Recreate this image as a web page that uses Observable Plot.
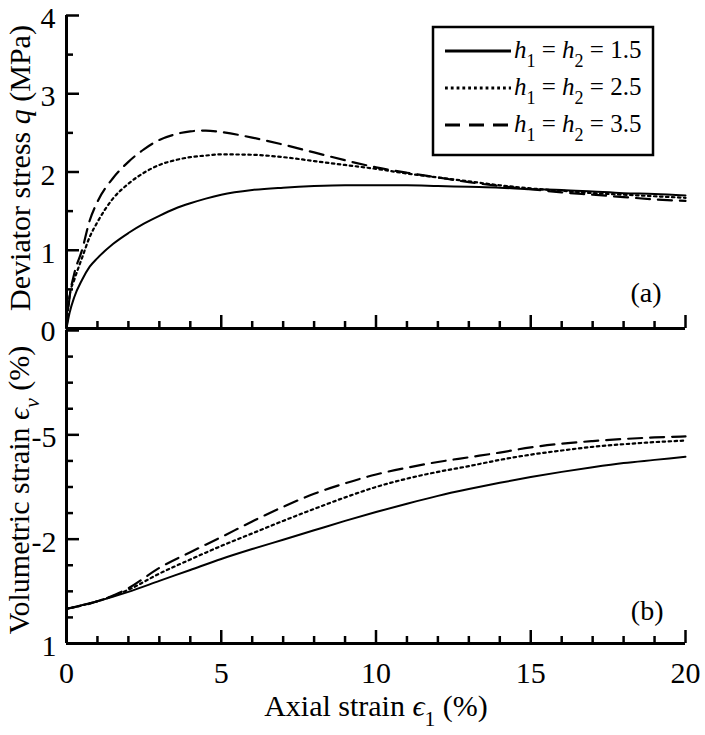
<!DOCTYPE html>
<html><head><meta charset="utf-8">
<script src="https://cdn.jsdelivr.net/npm/d3@7"></script>
<script src="https://cdn.jsdelivr.net/npm/@observablehq/plot@0.6"></script>
<style>
body{margin:0;background:#fff;}
#wrap{position:relative;width:705px;height:735px;background:#fff;}
#wrap svg{position:absolute;left:0;overflow:visible;}
</style></head><body><div id="wrap"></div>
<script>
// ---- data ----
const qStrain = [0, 0.1, 0.25, 0.5, 0.75, 1, 1.5, 2, 2.5, 3, 3.5, 4, 4.5, 5, 6, 7, 8, 9, 10, 11, 12, 13, 14, 15, 16, 17, 18, 19, 20];
const q15 = [0, 0.20, 0.40, 0.62, 0.79, 0.90, 1.08, 1.22, 1.34, 1.44, 1.53, 1.60, 1.66, 1.71, 1.77, 1.80, 1.82, 1.83, 1.83, 1.83, 1.82, 1.81, 1.80, 1.78, 1.77, 1.75, 1.73, 1.72, 1.70];
const q25 = [0, 0.42, 0.62, 0.90, 1.17, 1.36, 1.66, 1.85, 1.99, 2.09, 2.15, 2.19, 2.21, 2.225, 2.22, 2.19, 2.14, 2.09, 2.04, 1.98, 1.93, 1.88, 1.83, 1.79, 1.76, 1.73, 1.71, 1.69, 1.67];
const q35 = [0, 0.40, 0.70, 1.00, 1.38, 1.62, 1.92, 2.13, 2.29, 2.41, 2.48, 2.52, 2.53, 2.51, 2.44, 2.35, 2.25, 2.15, 2.06, 1.99, 1.93, 1.87, 1.82, 1.78, 1.74, 1.71, 1.68, 1.65, 1.63];

const evStrain = [0, 1, 2, 3, 4, 5, 6, 7, 8, 9, 10, 11, 12, 13, 14, 15, 16, 17, 18, 19, 20];
const ev15 = [0.335, 0.19, 0.01, -0.20, -0.41, -0.62, -0.81, -0.99, -1.17, -1.35, -1.52, -1.68, -1.83, -1.96, -2.08, -2.19, -2.29, -2.38, -2.46, -2.52, -2.58];
const ev25 = [0.335, 0.19, -0.03, -0.34, -0.61, -0.87, -1.11, -1.35, -1.58, -1.80, -2.00, -2.16, -2.29, -2.40, -2.52, -2.62, -2.70, -2.77, -2.82, -2.86, -2.89];
const ev35 = [0.335, 0.19, -0.06, -0.45, -0.75, -1.04, -1.34, -1.62, -1.87, -2.07, -2.24, -2.37, -2.48, -2.57, -2.66, -2.76, -2.83, -2.88, -2.92, -2.95, -2.97];

const seriesLabels = ["1.5", "2.5", "3.5"];
const xMajor = [0, 5, 10, 15, 20];
const xMinor = d3.range(0, 21).filter(d => d % 5 !== 0);
const qMajor = [0, 1, 2, 3, 4];
const qMinor = [0.5, 1.5, 2.5, 3.5];
const evMajor = [1, -1, -3, -5];
const evMinor = d3.range(1, -5.01, -0.5).filter(d => !evMajor.includes(d));
const evTickText = new Map([[1, "1"], [-1, "-2"], [-3, "-5"]]);

// ---- styles ----
const FONT = "'Liberation Serif', 'Times New Roman', serif";
const DOT = "2.5,3.5", DASH = "14,8";
const styles = [
  {stroke: "#000", strokeWidth: 2},
  {stroke: "#000", strokeWidth: 2.2, strokeDasharray: DOT},
  {stroke: "#000", strokeWidth: 2.2, strokeDasharray: DASH}
];
const W = 705, ML = 66, MR = 20;
const innerW = W - ML - MR;
const H1 = 330, MT1 = 15, MB1 = 2, innerH1 = H1 - MT1 - MB1;
const H2 = 405, MT2 = 0, MB2 = 92, innerH2 = H2 - MT2 - MB2;
const TICKFS = 30;

function tickMarks(xMaj, xMin, yMaj, yMin, yBase, innerH) {
  return [
    Plot.tickX(xMaj, {x: d => d, insetTop: innerH - 13, strokeWidth: 2.5}),
    Plot.tickX(xMin, {x: d => d, insetTop: innerH - 7, strokeWidth: 2.5}),
    Plot.tickY(yMaj, {y: d => d, insetRight: innerW - 13, strokeWidth: 2.5}),
    Plot.tickY(yMin, {y: d => d, insetRight: innerW - 7, strokeWidth: 2.5}),
    Plot.ruleX([0], {strokeWidth: 3}),
    Plot.ruleY([yBase], {strokeWidth: 3})
  ];
}

const qSeries = [q15, q25, q35];
const topPlot = Plot.plot({
  width: W, height: H1,
  marginLeft: ML, marginRight: MR, marginTop: MT1, marginBottom: MB1,
  x: {domain: [0, 20], axis: null},
  y: {domain: [0, 4], axis: null},
  style: {fontFamily: FONT, fontSize: TICKFS + "px", background: "transparent", overflow: "visible", color: "#000"},
  marks: [
    ...qSeries.map((s, i) => Plot.line(s, {x: qStrain, y: s, curve: "monotone-x", ...styles[i]})),
    ...tickMarks(xMajor, xMinor, qMajor, qMinor, 0, innerH1),
    Plot.axisY({ticks: qMajor, tickFormat: d => String(d), tickSize: 0, tickPadding: 11, dy: 3, fontSize: TICKFS, label: null}),
    Plot.text(["(a)"], {frameAnchor: "bottom-right", dx: -24, dy: -27, fontSize: 28})
  ]
});

const evSeries = [ev15, ev25, ev35];
const botPlot = Plot.plot({
  width: W, height: H2,
  marginLeft: ML, marginRight: MR, marginTop: MT2, marginBottom: MB2,
  x: {domain: [0, 20], axis: null},
  y: {domain: [1, -5], axis: null},
  style: {fontFamily: FONT, fontSize: TICKFS + "px", background: "transparent", overflow: "visible", color: "#000"},
  marks: [
    ...evSeries.map((s, i) => Plot.line(s, {x: evStrain, y: s, curve: "monotone-x", ...styles[i]})),
    ...tickMarks(xMajor, xMinor, evMajor, evMinor, 1, innerH2),
    Plot.axisY({ticks: [1, -1, -3], tickFormat: d => evTickText.get(d), tickSize: 0, tickPadding: 10, dy: 3, fontSize: TICKFS, label: null}),
    Plot.axisX({ticks: xMajor, tickFormat: d => String(d), tickSize: 0, tickPadding: 18, fontSize: TICKFS, label: null}),
    Plot.text(["(b)"], {frameAnchor: "bottom-right", dx: -22, dy: -24, fontSize: 28})
  ]
});

const wrap = document.getElementById("wrap");
topPlot.style.top = "0px";
botPlot.style.top = H1 + "px";
wrap.appendChild(botPlot);
wrap.appendChild(topPlot);

// rich text helper (italics, subscripts)
function richText(svg, x, y, parts, {rotate = 0, size = 30, anchor = "middle"} = {}) {
  const t = d3.select(svg).append("text")
    .attr("transform", `translate(${x},${y}) rotate(${rotate})`)
    .attr("text-anchor", anchor)
    .attr("font-family", FONT)
    .attr("font-size", size)
    .attr("fill", "#000");
  let shift = 0;
  for (const p of parts) {
    const ts = t.append("tspan").text(p.t);
    if (p.i) ts.attr("font-style", "italic");
    if (p.sub) {
      const s = size * 0.34;
      ts.attr("font-size", size * 0.72).attr("dy", s - shift);
      shift = s;
    } else if (shift) {
      ts.attr("dy", -shift);
      shift = 0;
    }
  }
  return t;
}

richText(topPlot, 30, 168, [{t: "Deviator stress "}, {t: "q", i: true}, {t: " (MPa)"}], {rotate: -90, size: 30});
richText(botPlot, 29, 160, [{t: "Volumetric strain "}, {t: "ϵ", i: true}, {t: "v", i: true, sub: true}, {t: " (%)"}], {rotate: -90, size: 30});
richText(botPlot, 376, 386, [{t: "Axial strain "}, {t: "ϵ", i: true}, {t: "1", sub: true}, {t: " (%)"}], {size: 30});

// legend
const lg = d3.select(topPlot).append("g");
lg.append("rect").attr("x", 433).attr("y", 27).attr("width", 220).attr("height", 128)
  .attr("fill", "#fff").attr("stroke", "#000").attr("stroke-width", 2.5);
const rowY = [58, 95, 132];
seriesLabels.forEach((lab, i) => {
  lg.append("line").attr("x1", 445).attr("x2", 511).attr("y1", rowY[i] - 7).attr("y2", rowY[i] - 7)
    .attr("stroke", "#000").attr("stroke-width", 2.8)
    .attr("stroke-dasharray", i === 0 ? null : (i === 1 ? "2.8,3" : "15,9"));
  const tx = richText(topPlot, 514, rowY[i], [
    {t: "h", i: true}, {t: "1", sub: true}, {t: " = "}, {t: "h", i: true}, {t: "2", sub: true}, {t: " = " + lab}
  ], {size: 25, anchor: "start"});
  lg.node().appendChild(tx.node());
});
</script></body></html>
